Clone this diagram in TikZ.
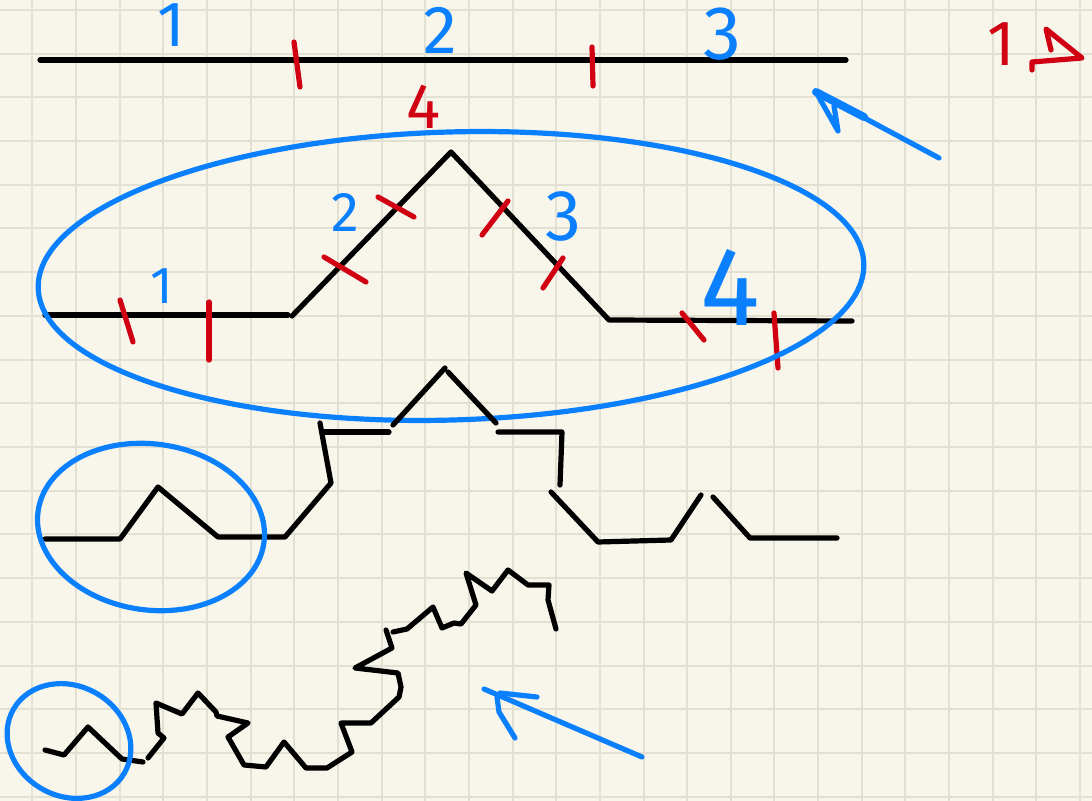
\documentclass[tikz,border=0pt]{standalone}
\usepackage{fontspec}
\setmainfont{Fira Sans}

\definecolor{paper}{RGB}{248,246,234}
\definecolor{gridline}{RGB}{226,224,211}
\definecolor{penblue}{RGB}{10,128,255}
\definecolor{penred}{RGB}{208,0,18}

\tikzset{
  koch/.style={line width=2.6pt, line cap=round, line join=round},
  bluepen/.style={penblue, line width=2.6pt, line cap=round, line join=round},
  redpen/.style={penred, line width=2.6pt, line cap=round, line join=round},
  bluelab/.style={penblue, inner sep=0pt, font=\fontsize{#1}{#1}\selectfont},
  redlab/.style={penred, inner sep=0pt, font=\fontsize{#1}{#1}\selectfont}
}

\begin{document}
\begin{tikzpicture}[x=0.5pt,y=-0.5pt]

%====================================================
% Paper : cream sheet with square grid
%====================================================
\fill[paper] (0,0) rectangle (1092,801);
\useasboundingbox (0,0) rectangle (1092,801);
\foreach \i in {0,...,24}
  \draw[gridline,line width=1pt] ({32.4+43.65*\i},0) -- ({32.4+43.65*\i},801);
\foreach \j in {0,...,18}
  \draw[gridline,line width=1pt] (0,{10+43.7*\j}) -- (1092,{10+43.7*\j});

%====================================================
% Step 0 : straight segment cut in three
%====================================================
\draw[koch] (40,60) -- (846,60);
\draw[redpen] (294,42) -- (300,87);
\draw[redpen] (592,47) -- (593,86);

\node[bluelab=32] (zeroa) at (171,25) {1};
\node[bluelab=34] (zerob) at (440,30) {2};
\node[bluelab=38] (zeroc) at (722,34) {3};

% Count of pieces
\node[redlab=32] (count) at (1001,44) {1};
\draw[redpen] (1051,50) -- (1046,29) -- (1082,58) -- (1032,62) -- (1032,70);

% Arrow from step 1 back to step 0
\coordinate (toptail) at (939,158);
\coordinate (toptip) at (816,92);
\draw[bluepen] (toptail) -- (toptip);
\draw[bluepen] (toptip) -- (838,131) -- (834,106);
\draw[bluepen,line width=4pt] (toptip) -- (864,117);

%====================================================
% Step 1 : four segments
%====================================================
\node[redlab=32] (peak) at (424,107) {4};

\draw[koch] (45,315) -- (288,315);
\draw[koch] (292,316) -- (451,152) -- (609,320) -- (852,321);

% thirds of each piece
\draw[redpen] (120,300) -- (133,342);
\draw[redpen] (209,302) -- (209,360);
\draw[redpen] (324,257) -- (366,282);
\draw[redpen] (378,197) -- (414,217);
\draw[redpen] (482,235) -- (508,201);
\draw[redpen] (543,288) -- (563,258);
\draw[redpen] (682,313) -- (704,340);
\draw[redpen] (774,313) -- (778,368);

\node[bluelab=26] (onea) at (162,286) {1};
\node[bluelab=28] (oneb) at (345,212) {2};
\node[bluelab=36] (onec) at (563,216) {3};
\node[bluelab=56] (oned) at (730,287) {4};

\draw[bluepen,rotate around={1.7:(451,276)}] (451,276) ellipse [x radius=413, y radius=144];

%====================================================
% Step 2 : sixteen segments
%====================================================
\draw[koch] (45,539) -- (120,539) -- (158,487) -- (218,537) -- (285,537)
  -- (331,483) -- (320,423);
\draw[koch] (324,432) -- (389,432);
\draw[koch] (393,425) -- (445,368);
\draw[koch] (448,372) -- (496,423);
\draw[koch] (498,432) -- (562,432) -- (560,485);
\draw[koch] (551,492) -- (598,542) -- (671,540) -- (701,495);
\draw[koch] (713,497) -- (750,538) -- (837,538);

\draw[bluepen,rotate around={-8:(151,527)}] (151,527) ellipse [x radius=114, y radius=83];

%====================================================
% Step 3 : sixty-four segments
%====================================================
\draw[koch] (45,750) -- (64,755) -- (88,727) -- (122,759) -- (143,762);
\draw[koch] (148,758) -- (164,738) -- (158,733) -- (156,703) -- (182,714)
  -- (198,693) -- (216,712) -- (217,716) -- (248,723) -- (228,737)
  -- (244,765) -- (266,767) -- (284,742) -- (306,768) -- (327,768)
  -- (352,752) -- (341,723) -- (371,723) -- (399,697) -- (401,687)
  -- (398,673) -- (355,668) -- (392,648) -- (386,630);
\draw[koch] (393,632) -- (407,629) -- (433,607) -- (442,628) -- (454,623)
  -- (461,624) -- (476,605) -- (466,573) -- (492,591) -- (508,570)
  -- (528,585) -- (549,585) -- (548,600) -- (556,629);

\draw[bluepen,rotate around={-30:(69,741)}] (69,741) ellipse [x radius=64, y radius=55];

% Arrow from step 3 back to step 2
\coordinate (lowtail) at (642,757);
\coordinate (lowtip) at (484,689);
\draw[bluepen] (lowtail) -- (lowtip);
\draw[bluepen] (500,693) -- (537,697);
\draw[bluepen] (497,697) -- (499,712) -- (515,738);

\end{tikzpicture}
\end{document}
